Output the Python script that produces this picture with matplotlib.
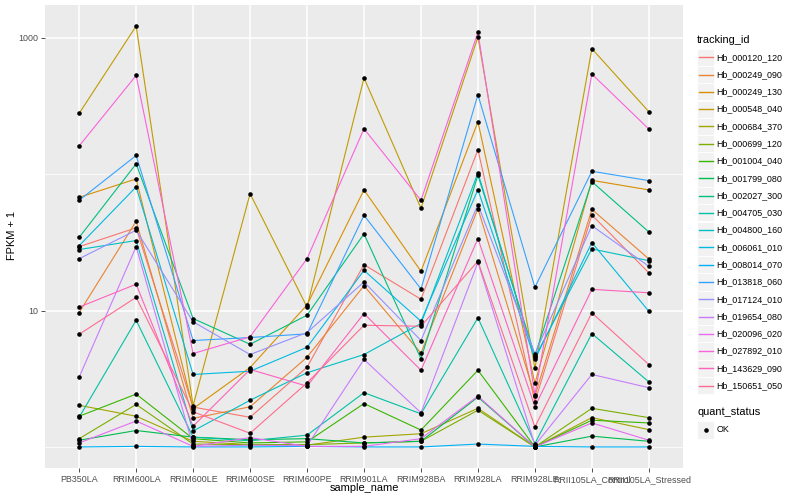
import numpy as np
import matplotlib
matplotlib.use("Agg")
import matplotlib.pyplot as plt
from matplotlib.patches import Rectangle
from matplotlib.lines import Line2D

plt.rcParams['font.family'] = ['Liberation Sans', 'DejaVu Sans']

# DATOS (FPKM + 1)
samples = ["PB350LA", "RRIM600LA", "RRIM600LE", "RRIM600SE", "RRIM600PE",
           "RRIM901LA", "RRIM928BA", "RRIM928LA", "RRIM928LE",
           "RRII105LA_Control", "RRII105LA_Stressed"]

tracking_ids = ["Hb_000120_120", "Hb_000249_090", "Hb_000249_130", "Hb_000548_040",
                "Hb_000684_370", "Hb_000699_120", "Hb_001004_040", "Hb_001799_080",
                "Hb_002027_300", "Hb_004705_030", "Hb_004800_160", "Hb_006061_010",
                "Hb_008014_070", "Hb_013818_060", "Hb_017124_010", "Hb_019654_080",
                "Hb_020096_020", "Hb_027892_010", "Hb_143629_090", "Hb_150651_050"]

hb_000120_120 = [29.4, 40.4, 1.96, 1.65, 3.84, 21.7, 12.1, 151, 2.14, 50.2, 18.9]
hb_000249_090 = [9.67, 45.1, 1.62, 1.97, 4.55, 15.2, 4.87, 55.9, 2.36, 55.2, 23.9]
hb_000249_130 = [67.6, 92.2, 1.91, 3.82, 11.0, 76.6, 19.4, 242, 2.92, 90.1, 76.6]
hb_000548_040 = [279, 1218, 2.01, 71.9, 10.6, 507, 56.2, 1012, 3.76, 831, 287]
hb_000684_370 = [2.02, 1.68, 1.10, 1.04, 1.03, 1.18, 1.25, 1.92, 1.00, 1.64, 1.34]
hb_000699_120 = [1.15, 2.05, 1.05, 1.04, 1.04, 1.07, 1.10, 1.86, 1.00, 1.92, 1.64]
hb_001004_040 = [1.68, 2.44, 1.15, 1.07, 1.09, 2.08, 1.33, 3.65, 1.00, 1.57, 1.50]
hb_001799_080 = [1.12, 1.32, 1.18, 1.13, 1.15, 1.07, 1.10, 2.32, 1.00, 1.20, 1.10]
hb_002027_300 = [34.4, 119, 8.74, 5.66, 9.24, 36.5, 4.43, 98.3, 4.68, 88.1, 37.7]
hb_004705_030 = [1.65, 8.49, 1.18, 1.11, 1.22, 2.50, 1.75, 8.84, 1.06, 6.78, 3.00]
hb_004800_160 = [28.0, 32.6, 1.31, 2.20, 3.50, 4.76, 8.03, 102, 4.53, 28.3, 23.2]
hb_006061_010 = [29.9, 80.6, 3.40, 3.59, 5.38, 19.7, 8.35, 77.0, 4.38, 31.5, 9.88]
hb_008014_070 = [1.00, 1.01, 1.00, 1.00, 1.01, 1.00, 1.00, 1.05, 1.01, 1.00, 1.00]
hb_013818_060 = [64.3, 137, 6.03, 6.34, 6.75, 49.9, 14.4, 382, 14.8, 105, 89.6]
hb_017124_010 = [24.0, 38.8, 8.27, 4.76, 6.90, 16.2, 6.03, 59.8, 4.82, 41.9, 21.1]
hb_019654_080 = [3.25, 29.4, 1.01, 1.03, 1.02, 4.38, 1.78, 22.6, 1.03, 3.40, 2.72]
hb_020096_020 = [1.07, 1.55, 1.01, 1.17, 1.01, 1.01, 1.15, 2.36, 1.00, 1.50, 1.12]
hb_027892_010 = [161, 529, 4.84, 6.42, 24.0, 215, 64.3, 1094, 2.42, 542, 214]
hb_143629_090 = [10.6, 15.6, 1.42, 3.70, 2.79, 9.51, 3.65, 33.7, 1.97, 14.3, 13.5]
hb_150651_050 = [6.70, 12.5, 1.81, 1.26, 2.95, 7.80, 7.67, 23.0, 1.40, 9.62, 4.02]

series = [hb_000120_120, hb_000249_090, hb_000249_130, hb_000548_040,
          hb_000684_370, hb_000699_120, hb_001004_040, hb_001799_080,
          hb_002027_300, hb_004705_030, hb_004800_160, hb_006061_010,
          hb_008014_070, hb_013818_060, hb_017124_010, hb_019654_080,
          hb_020096_020, hb_027892_010, hb_143629_090, hb_150651_050]

quant_status = ["OK"]

# paleta tipo ggplot (hue_pal, 20 niveles)
colores = ["#F8766D", "#EA8331", "#D89000", "#C09B00", "#A3A500", "#7CAE00",
           "#39B600", "#00BB4E", "#00BF7D", "#00C1A3", "#00BFC4", "#00BAE0",
           "#00B0F6", "#35A2FF", "#9590FF", "#C77CFF", "#E76BF3", "#FA62DB",
           "#FF62BC", "#FF6C91"]

W, H = 800, 500


def fx(x):
    return x / W


def fy(y):
    return 1 - y / H


fig = plt.figure(figsize=(8, 5), dpi=100)
ax = fig.add_axes([fx(45), fy(468), (683 - 45) / W, (468 - 5) / H])
ax.set_facecolor("#EBEBEB")
for s in ax.spines.values():
    s.set_visible(False)

x = np.arange(len(samples))
for vals, c in zip(series, colores):
    ax.plot(x, vals, color=c, lw=0.8, zorder=3)
for vals in series:
    ax.plot(x, vals, "o", color="black", ms=3.3, mew=0, zorder=4)

ax.set_yscale("log")
todos = np.concatenate([np.log10(v) for v in series])
lo, hi = todos.min(), todos.max()
r = hi - lo
ax.set_ylim(10 ** (lo - 0.05 * r), 10 ** (hi + 0.05 * r))
ax.set_xlim(-0.6, len(samples) - 0.4)

ax.set_yticks([10, 1000])
ax.set_yticklabels(["10", "1000"])
ax.set_yticks([1, 100], minor=True)
ax.set_yticklabels([], minor=True)
ax.set_xticks(x)
ax.set_xticklabels(samples)

ax.grid(which="major", color="white", lw=1.1, zorder=1)
ax.grid(which="minor", axis="y", color="white", lw=0.55, zorder=1)
ax.set_axisbelow(True)
ax.tick_params(which="major", length=3, width=0.6, color="#333333",
               labelsize=6.4, labelcolor="#4D4D4D", pad=2)
ax.tick_params(which="minor", length=0)

fig.text(fx(364), fy(488), "sample_name", fontsize=7.9, ha="center", va="center")
fig.text(fx(12), fy(236), "FPKM + 1", fontsize=7.9, ha="center", va="center",
         rotation=90)

# leyenda manual
fig.text(fx(697), fy(40), "tracking_id", fontsize=7.9, ha="left", va="center")
for i, (tid, c) in enumerate(zip(tracking_ids, colores)):
    yc = 57.3 + i * 17.28
    fig.patches.append(Rectangle((fx(697), fy(yc + 8.6)), 17.2 / W, 17.2 / H,
                                 transform=fig.transFigure, facecolor="#F2F2F2",
                                 edgecolor="white", lw=0.6, zorder=1))
    fig.lines.append(Line2D([fx(698.7), fx(712.5)], [fy(yc), fy(yc)],
                            transform=fig.transFigure, color=c, lw=1.0, zorder=5))
    fig.text(fx(716.7), fy(yc), tid, fontsize=6.4, ha="left", va="center")

fig.text(fx(697), fy(412), "quant_status", fontsize=7.9, ha="left", va="center")
for j, q in enumerate(quant_status):
    yc = 430 + j * 17.28
    fig.patches.append(Rectangle((fx(697), fy(yc + 8.6)), 17.2 / W, 17.2 / H,
                                 transform=fig.transFigure, facecolor="#F2F2F2",
                                 edgecolor="white", lw=0.6, zorder=1))
    fig.lines.append(Line2D([fx(705.6)], [fy(yc)], transform=fig.transFigure,
                            marker="o", color="black", ms=3.3, mew=0, zorder=5))
    fig.text(fx(716.7), fy(yc), q, fontsize=6.4, ha="left", va="center")

fig.savefig("out.png", dpi=100)
